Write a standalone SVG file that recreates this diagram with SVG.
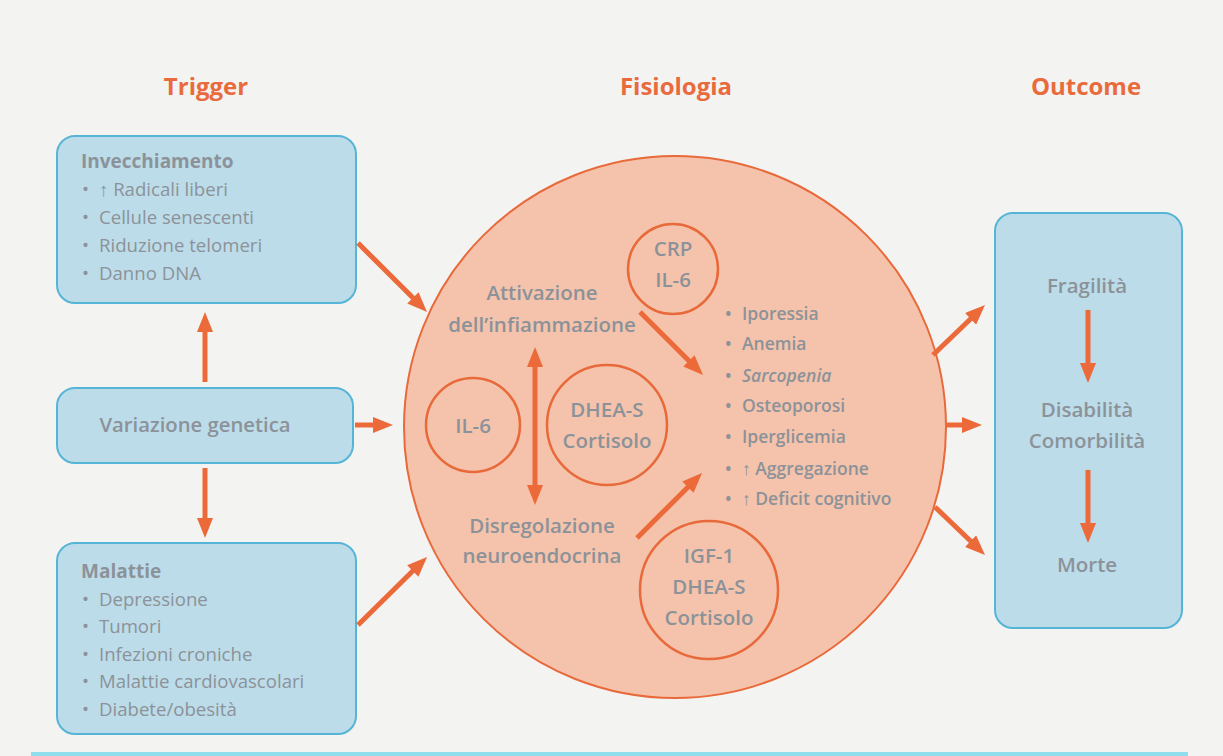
<svg xmlns="http://www.w3.org/2000/svg" width="1223" height="756" viewBox="0 0 1223 756">
<defs>
<marker id="ah" viewBox="0 0 20 16" refX="1" refY="8" markerWidth="20" markerHeight="16" markerUnits="userSpaceOnUse" orient="auto-start-reverse">
<path d="M0,0 L20,8 L0,16 z" fill="#ec6a3a"/>
</marker>
<style>
.hdr{font-family:"Open Sans","Noto Sans",sans-serif;font-weight:700;font-size:24px;fill:#e96b3d;text-anchor:middle}
.box{fill:#bcdce9;stroke:#56b5d6;stroke-width:2}
.t{font-family:"Open Sans","Noto Sans",sans-serif;fill:#8c9299}
.ttl{font-size:19px;font-weight:700}
.itm{font-size:18.6px;font-weight:400}
.ctr{font-size:20.5px;font-weight:600;text-anchor:middle}
.lst{font-size:17.5px;font-weight:600}
.ring{fill:none;stroke:#e8693a;stroke-width:2.5}
.ar{stroke:#ec6a3a;stroke-width:5;fill:none;marker-end:url(#ah)}
</style>
</defs>
<rect x="0" y="0" width="1223" height="756" fill="#f3f3f2"/>
<rect x="31" y="752" width="1157" height="4" fill="#8fdeee"/>

<g id="headers">
<text class="hdr" x="206" y="95">Trigger</text>
<text class="hdr" x="676" y="95">Fisiologia</text>
<text class="hdr" x="1086" y="95">Outcome</text>
</g>

<g id="fisiologia">
<circle cx="675" cy="427" r="271" fill="#f5c3ab" stroke="#e8693a" stroke-width="2"/>
<text class="t ctr" x="542" y="300">Attivazione</text>
<text class="t ctr" x="542" y="332">dell’infiammazione</text>
<text class="t ctr" x="542" y="533">Disregolazione</text>
<text class="t ctr" x="542" y="563">neuroendocrina</text>
</g>

<g id="crp">
<circle class="ring" cx="673" cy="269" r="45"/>
<text class="t ctr" x="673" y="256">CRP</text>
<text class="t ctr" x="673" y="287">IL-6</text>
</g>

<g id="il6">
<circle class="ring" cx="473" cy="425" r="47"/>
<text class="t ctr" x="473" y="433">IL-6</text>
</g>

<g id="dhea">
<circle class="ring" cx="607" cy="425" r="60"/>
<text class="t ctr" x="607" y="417">DHEA-S</text>
<text class="t ctr" x="607" y="448">Cortisolo</text>
</g>

<g id="igf">
<circle class="ring" cx="709" cy="590" r="69"/>
<text class="t ctr" x="709" y="563">IGF-1</text>
<text class="t ctr" x="709" y="594">DHEA-S</text>
<text class="t ctr" x="709" y="625">Cortisolo</text>
</g>

<g id="sintomi">
<text class="t lst" x="725" y="320">•<tspan x="742">Iporessia</tspan></text>
<text class="t lst" x="725" y="350">•<tspan x="742">Anemia</tspan></text>
<text class="t lst" x="725" y="382">•<tspan x="742" font-style="italic">Sarcopenia</tspan></text>
<text class="t lst" x="725" y="412">•<tspan x="742">Osteoporosi</tspan></text>
<text class="t lst" x="725" y="443">•<tspan x="742">Iperglicemia</tspan></text>
<text class="t lst" x="725" y="475">•<tspan x="742">↑ Aggregazione</tspan></text>
<text class="t lst" x="725" y="505">•<tspan x="742">↑ Deficit cognitivo</tspan></text>
</g>

<g id="invecchiamento">
<rect class="box" x="57" y="136" width="299" height="167" rx="18"/>
<text class="t ttl" x="81" y="168">Invecchiamento</text>
<text class="t itm" x="82" y="196">•<tspan x="99">↑ Radicali liberi</tspan></text>
<text class="t itm" x="82" y="224">•<tspan x="99">Cellule senescenti</tspan></text>
<text class="t itm" x="82" y="252">•<tspan x="99">Riduzione telomeri</tspan></text>
<text class="t itm" x="82" y="280">•<tspan x="99">Danno DNA</tspan></text>
</g>

<g id="variazione">
<rect class="box" x="57" y="388" width="296" height="75" rx="18"/>
<text class="t" x="195" y="432" font-size="20.3" font-weight="600" text-anchor="middle">Variazione genetica</text>
</g>

<g id="malattie">
<rect class="box" x="57" y="543" width="299" height="191" rx="18"/>
<text class="t ttl" x="81" y="578">Malattie</text>
<text class="t itm" x="82" y="606">•<tspan x="99">Depressione</tspan></text>
<text class="t itm" x="82" y="633">•<tspan x="99">Tumori</tspan></text>
<text class="t itm" x="82" y="661">•<tspan x="99">Infezioni croniche</tspan></text>
<text class="t itm" x="82" y="688">•<tspan x="99">Malattie cardiovascolari</tspan></text>
<text class="t itm" x="82" y="716">•<tspan x="99">Diabete/obesità</tspan></text>
</g>

<g id="outcome">
<rect class="box" x="995" y="213" width="187" height="415" rx="18"/>
<text class="t ctr" x="1087" y="293">Fragilità</text>
<text class="t ctr" x="1087" y="417">Disabilità</text>
<text class="t ctr" x="1087" y="448">Comorbilità</text>
<text class="t ctr" x="1087" y="572">Morte</text>
</g>

<g id="connectors">
<line class="ar" x1="205" y1="382" x2="205" y2="331"/>
<line class="ar" x1="205" y1="468" x2="205" y2="519"/>
<line class="ar" x1="355" y1="425" x2="374" y2="425"/>
<line class="ar" x1="358" y1="243" x2="413.6" y2="298.6"/>
<line class="ar" x1="358" y1="625" x2="413.5" y2="570.3"/>
<line class="ar" x1="640" y1="312" x2="689.6" y2="361.6"/>
<line class="ar" x1="637" y1="538" x2="688.6" y2="486.4"/>
<line class="ar" x1="535" y1="366" x2="535" y2="486" marker-start="url(#ah)"/>
<line class="ar" x1="933" y1="355" x2="971.3" y2="318.2"/>
<line class="ar" x1="945" y1="425" x2="963" y2="425"/>
<line class="ar" x1="935" y1="507" x2="971.3" y2="541.8"/>
<line class="ar" x1="1088" y1="310" x2="1088" y2="364"/>
<line class="ar" x1="1088" y1="470" x2="1088" y2="524"/>
</g>
</svg>
